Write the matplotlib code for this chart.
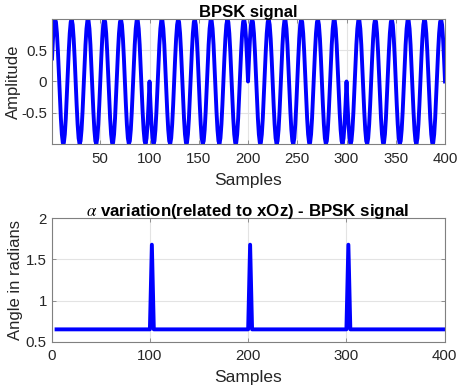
import numpy as np
import matplotlib
matplotlib.use('Agg')
import matplotlib.pyplot as plt

plt.rcParams['font.family'] = ['Liberation Sans', 'DejaVu Sans']
plt.rcParams['mathtext.fontset'] = 'stix'

# BPSK signal: one bit per 100 samples, 6 carrier cycles per bit
bits = [1, -1, 1, -1]
samples_per_bit = 100
cycles_per_bit = 6

# alpha angle (radians)
alpha_x = [5, 100, 102, 104, 200, 202, 204, 300, 302, 304, 400]
alpha_y = [0.65, 0.65, 1.68, 0.65, 0.65, 1.68, 0.65, 0.65, 1.68, 0.65, 0.65]

n = np.arange(1, samples_per_bit * len(bits) + 1)
sym = np.repeat(bits, samples_per_bit)
signal = sym * np.sin(2 * np.pi * cycles_per_bit / samples_per_bit * n)

blue = (0, 0, 1)
grid_c = '#e3e3e3'
spine_c = '#808080'
txt_c = '#262626'

fig = plt.figure(figsize=(4.57, 3.89), dpi=100)

ax1 = fig.add_axes([0.1138, 0.630, 0.860, 0.321])
ax1.plot(n, signal, color=blue, linewidth=2.8)
ax1.set_xlim(1, 400)
ax1.set_ylim(signal.min(), signal.max())
ax1.set_xticks(np.arange(50, 401, 50))
ax1.set_yticks([-0.5, 0, 0.5])
ax1.set_yticklabels(['-0.5', '0', '0.5'])
ax1.set_title('BPSK signal', fontsize=12, fontweight='bold', color='black', pad=1.5)
ax1.set_xlabel('Samples', fontsize=12.5, color=txt_c, labelpad=5)
ax1.set_ylabel('Amplitude', fontsize=12, color=txt_c, labelpad=0)

ax2 = fig.add_axes([0.113, 0.1216, 0.860, 0.317])
ax2.plot(alpha_x, alpha_y, color=blue, linewidth=2.8)
ax2.set_xlim(0, 400)
ax2.set_ylim(0.5, 2)
ax2.set_xticks([0, 100, 200, 300, 400])
ax2.set_yticks([0.5, 1, 1.5, 2])
ax2.set_yticklabels(['0.5', '1', '1.5', '2'])
ax2.set_title(r'$\alpha$ variation(related to xOz) - BPSK signal', fontsize=12.2,
              fontweight='bold', color='black', pad=2)
ax2.set_xlabel('Samples', fontsize=12.5, color=txt_c, labelpad=5)
ax2.set_ylabel('Angle in radians', fontsize=12, color=txt_c, labelpad=2)

for ax in (ax1, ax2):
    ax.grid(True, color=grid_c, linewidth=0.8)
    ax.set_axisbelow(True)
    for s in ax.spines.values():
        s.set_color(spine_c)
        s.set_linewidth(0.8)
    ax.tick_params(direction='in', length=3, width=0.6, color=spine_c,
                   labelsize=10.8, labelcolor=txt_c, top=True, right=True,
                   labeltop=False, labelright=False)
    ax.tick_params(axis='x', pad=5.5)

fig.savefig('out.png', dpi=100)
